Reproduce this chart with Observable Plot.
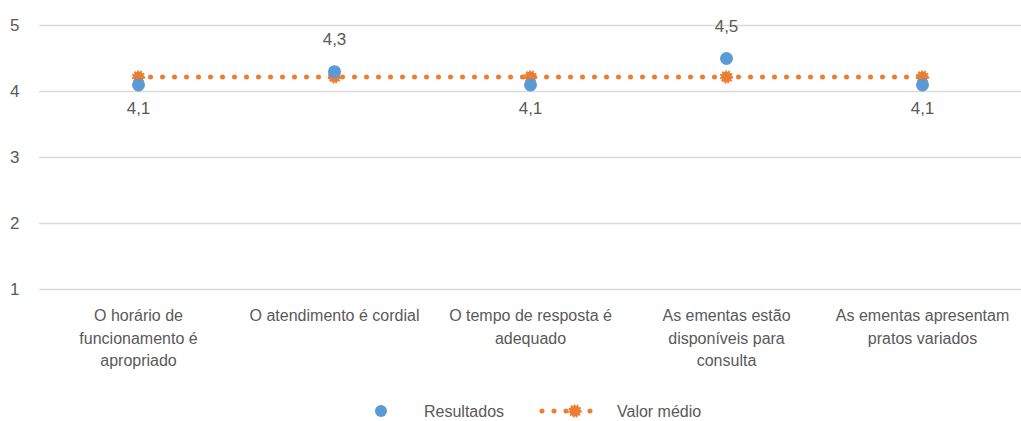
<!DOCTYPE html>
<html><head><meta charset="utf-8">
<script src="https://cdn.jsdelivr.net/npm/d3@7"></script>
<script src="https://cdn.jsdelivr.net/npm/@observablehq/plot@0.6"></script>
<style>
body{margin:0;background:#fff;font-family:"Liberation Sans Narrow","Arial Narrow","Liberation Sans",sans-serif;}
#chart svg,#legend svg{display:block}
</style></head><body>
<div id="chart"></div>
<div id="legend"></div>
<script>
const categories = ["O horário de funcionamento é apropriado","O atendimento é cordial","O tempo de resposta é adequado","As ementas estão disponíveis para consulta","As ementas apresentam pratos variados"];
const tickLabels = ["O horário de\nfuncionamento é\napropriado","O atendimento é cordial","O tempo de resposta é\nadequado","As ementas estão\ndisponíveis para\nconsulta","As ementas apresentam\npratos variados"];
const resultados = [4.1,4.3,4.1,4.5,4.1];
const valorMedio = [4.22,4.22,4.22,4.22,4.22];
const yTicks = [1,2,3,4,5];
const seriesNames = ["Resultados","Valor médio"];

const blue="#5B9BD5", orange="#ED7D31", grey="#595959";
const data = categories.map((c,i)=>({cat:c, r:resultados[i], m:valorMedio[i], lab:String(resultados[i]).replace(".",",")}));
const font='"Liberation Sans Narrow","Arial Narrow","Liberation Sans",sans-serif';
const chart = Plot.plot({
  width:1021, height:390,
  marginTop:25, marginBottom:101, marginLeft:39, marginRight:0,
  style:{fontFamily:font, fontSize:"16px", color:grey, background:"#fff"},
  x:{type:"band", domain:categories, padding:0, axis:null, label:null},
  y:{domain:[1,5], axis:null, label:null},
  marks:[
    Plot.gridY(yTicks,{stroke:"#d9d9d9", strokeOpacity:1, strokeWidth:1.5}),
    Plot.axisY({ticks:yTicks, tickSize:0, tickPadding:20, fill:grey, fontSize:17, tickFormat:d=>d, label:null}),
    Plot.axisX({tickSize:0, tickPadding:16, fill:grey, fontSize:16, lineHeight:1.4, label:null, tickFormat:(d)=>tickLabels[categories.indexOf(d)]}),
    Plot.lineY(data,{x:"cat", y:"m", stroke:orange, strokeWidth:5, strokeDasharray:"0,12", strokeLinecap:"round"}),
    Plot.dot(data,{x:"cat", y:"m", r:5.5, fill:orange, stroke:orange, strokeWidth:2.5, strokeDasharray:"1.5,1.5"}),
    Plot.dot(data,{x:"cat", y:"r", r:6.5, fill:blue, stroke:"none"}),
    Plot.text(data.filter(d=>d.r<d.m),{x:"cat", y:"r", text:"lab", dy:24, fill:grey, fontSize:17}),
    Plot.text(data.filter(d=>d.r>=d.m),{x:"cat", y:"r", text:"lab", dy:-32, fill:grey, fontSize:17})
  ]
});
document.getElementById("chart").appendChild(chart);

const lg = document.getElementById("legend");
lg.innerHTML = `
<svg width="1021" height="31" font-family='${font}' font-size="16" fill="${grey}">
<circle cx="381" cy="21" r="6" fill="${blue}"/>
<text x="424" y="21" dy="0.35em">${seriesNames[0]}</text>
<line x1="542" y1="21" x2="602" y2="21" stroke="${orange}" stroke-width="5" stroke-dasharray="0,12" stroke-linecap="round"/>
<circle cx="575" cy="21" r="5.5" fill="${orange}" stroke="${orange}" stroke-width="2.5" stroke-dasharray="1.5,1.5"/>
<text x="617" y="21" dy="0.35em">${seriesNames[1]}</text>
</svg>`;
</script>
</body></html>
